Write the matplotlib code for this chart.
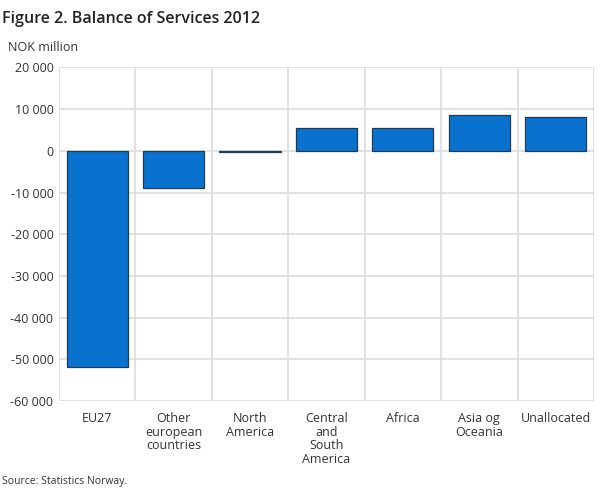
import matplotlib.pyplot as plt
from matplotlib.ticker import FuncFormatter

plt.rcParams['font.family'] = ['Open Sans', 'DejaVu Sans']

# Data (NOK million)
regions = ['EU27', 'Other\neuropean\ncountries', 'North\nAmerica', 'Central\nand\nSouth\nAmerica',
           'Africa', 'Asia og\nOceania', 'Unallocated']
balance = [-51900, -8850, -300, 5500, 5450, 8550, 8100]
y_ticks = [-60000, -50000, -40000, -30000, -20000, -10000, 0, 10000, 20000]

fig = plt.figure(figsize=(6.1, 4.88), dpi=100)
ax = fig.add_axes([0.0967, 0.178, 0.877, 0.684])

x = list(range(len(regions)))
ax.bar(x, balance, width=0.8, color='#0872ce', edgecolor='#1d3b57', linewidth=0.9, zorder=3)

ax.set_xlim(-0.5, len(regions) - 0.5)
ax.set_ylim(-60000, 20000)
ax.set_yticks(y_ticks)
ax.yaxis.set_major_formatter(FuncFormatter(lambda v, p: f'{int(v):,}'.replace(',', ' ')))

# grid: horizontal at ticks, vertical at category boundaries
for yv in y_ticks:
    ax.axhline(yv, color='#dcdcdc', linewidth=1.2, zorder=1)
for b in range(len(regions) + 1):
    ax.axvline(b - 0.5, color='#dcdcdc', linewidth=1.2, zorder=1)

ax.set_xticks(x)
ax.set_xticklabels(regions, fontsize=9, color='#333333', va='top', linespacing=1.05)
ax.tick_params(axis='both', length=0, labelsize=9, colors='#333333')
ax.tick_params(axis='x', pad=8)
ax.tick_params(axis='y', pad=4)
for s in ax.spines.values():
    s.set_visible(False)

fig.text(0.003, 0.977, 'Figure 2. Balance of Services 2012', fontsize=11.5, fontweight='semibold',
         color='#222222', va='top')
fig.text(0.013, 0.902, 'NOK million', fontsize=9, color='#333333', va='center')
fig.text(0.003, 0.014, 'Source: Statistics Norway.', fontsize=7.5, color='#333333', va='center')

fig.savefig('out.png', dpi=100)
